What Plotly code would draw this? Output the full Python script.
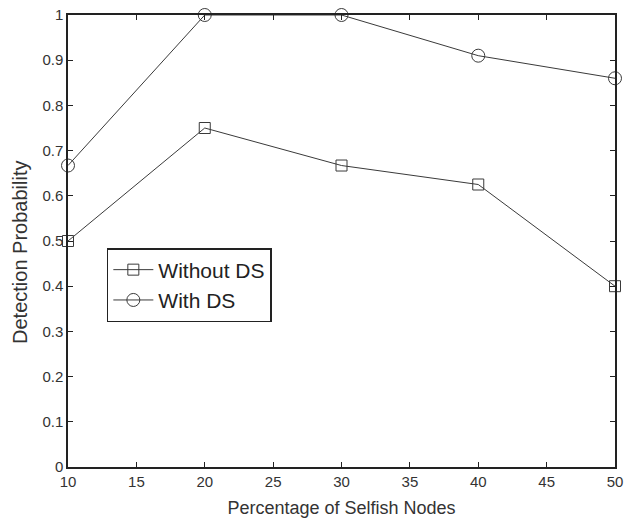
import plotly.graph_objects as go

x_vals = [10, 20, 30, 40, 50]
without_ds = [0.5, 0.75, 0.667, 0.625, 0.4]
with_ds = [0.667, 1.0, 1.0, 0.91, 0.86]
x_ticks = [10, 15, 20, 25, 30, 35, 40, 45, 50]
y_ticks = [0, 0.1, 0.2, 0.3, 0.4, 0.5, 0.6, 0.7, 0.8, 0.9, 1]
y_tick_text = ["0", "0.1", "0.2", "0.3", "0.4", "0.5", "0.6", "0.7", "0.8", "0.9", "1"]

FONT = "Liberation Sans, Arial, Helvetica, sans-serif"
line_color = "#3a3a3a"
fig = go.Figure()
fig.add_trace(go.Scatter(
    x=x_vals, y=without_ds, name="Without DS", mode="lines+markers",
    line=dict(color=line_color, width=1),
    marker=dict(symbol="square-open", size=11, color=line_color, line=dict(width=1)),
    cliponaxis=False,
))
fig.add_trace(go.Scatter(
    x=x_vals, y=with_ds, name="With DS", mode="lines+markers",
    line=dict(color=line_color, width=1),
    marker=dict(symbol="circle-open", size=13, color=line_color, line=dict(width=1)),
    cliponaxis=False,
))

axis_common = dict(
    showline=True, linecolor="#222", linewidth=1.5, mirror="ticks",
    ticks="inside", ticklen=5, tickcolor="#222", showgrid=False, zeroline=False,
    tickfont=dict(family=FONT, size=15, color="#333"),
    ticklabeloverflow="allow", automargin=False,
)
fig.update_xaxes(range=[10, 50], tickvals=x_ticks, **axis_common,
                 title=dict(text="Percentage of Selfish Nodes",
                            font=dict(family=FONT, size=18, color="#333"),
                            standoff=13))
fig.update_yaxes(range=[0, 1], tickvals=y_ticks, ticktext=y_tick_text, **axis_common)

fig.add_annotation(text="Detection Probability", textangle=-90,
                   xref="paper", yref="paper", x=-0.0878, y=0.4757,
                   xanchor="center", yanchor="middle", showarrow=False,
                   font=dict(family=FONT, size=20, color="#333"))

fig.update_layout(
    width=624, height=518,
    margin=dict(l=68, r=9, t=15, b=51, autoexpand=False),
    plot_bgcolor="white", paper_bgcolor="white",
    legend=dict(x=0.071, y=0.4845, xanchor="left", yanchor="top",
                bordercolor="#222", borderwidth=1.5, bgcolor="white",
                font=dict(family=FONT, size=21, color="#222"),
                itemwidth=40, tracegroupgap=0),
    showlegend=True,
)

fig.write_html("out.html")
